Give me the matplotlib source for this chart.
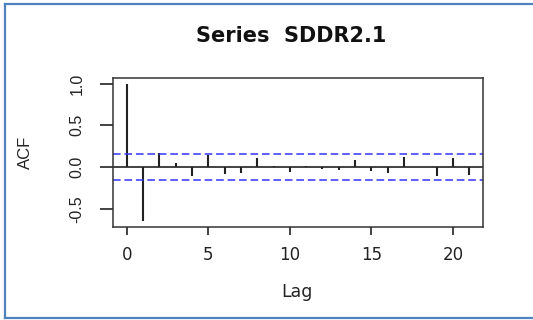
import matplotlib
matplotlib.use("Agg")
import matplotlib.pyplot as plt
from matplotlib.lines import Line2D

# ACF values, lags 0..21
lags = list(range(22))
acf = [1.0, -0.65, 0.175, 0.046, -0.11, 0.14, -0.08, -0.066, 0.104, 0.018,
       -0.055, 0.016, -0.022, -0.032, 0.084, -0.042, -0.075, 0.116, 0.004,
       -0.11, 0.104, -0.096]
ci = 0.157
title = "Series  SDDR2.1"

plt.rcParams['font.family'] = ['DejaVu Sans']

fig = plt.figure(figsize=(5.33, 3.2), dpi=100)
ax = fig.add_axes([113/533, 1 - 227/320, 370/533, 149/320])

ax.vlines(lags, 0, acf, color='#222222', linewidth=1.5)
ax.axhline(0, color='#222222', linewidth=1.2)
ax.axhline(ci, color='#3333ff', linewidth=1.1, linestyle=(0, (5, 2.5)))
ax.axhline(-ci, color='#3333ff', linewidth=1.1, linestyle=(0, (5, 2.5)))

lo, hi = min(acf), max(acf)
ax.set_xlim(-0.04 * 21, 21 * 1.04)
ax.set_ylim(lo - 0.04 * (hi - lo), hi + 0.04 * (hi - lo))

ax.set_xticks([0, 5, 10, 15, 20])
ax.set_yticks([-0.5, 0.0, 0.5, 1.0])
ax.set_yticklabels(['-0.5', '0.0', '0.5', '1.0'], rotation=90, va='center',
                   family='Liberation Sans', fontsize=11.5)
ax.tick_params(axis='x', length=6, width=1.2, pad=8, labelsize=12, colors='#222222')
ax.tick_params(axis='y', length=9.5, width=1.2, pad=11, colors='#222222')
for s in ax.spines.values():
    s.set_color('#333333')
    s.set_linewidth(1.1)

fig.text(25/533, 1 - 152/320, 'ACF', rotation=90, ha='center', va='center', fontsize=12,
         family='Liberation Sans', color='#222222')
fig.text(297/533, 1 - 292/320, 'Lag', ha='center', va='center', fontsize=12.5, color='#222222')
fig.text(291/533, 1 - 36/320, title, ha='center', va='center', fontsize=15, fontweight='bold', color='#111111')

# blue frame around the screenshot (open on the right)
bc = '#4f81bd'
fig.add_artist(Line2D([5/533, 5/533], [1 - 4/320, 1 - 318/320], color=bc, linewidth=1.6))
fig.add_artist(Line2D([5/533, 1.0], [1 - 4/320, 1 - 4/320], color=bc, linewidth=1.6))
fig.add_artist(Line2D([5/533, 1.0], [1 - 318/320, 1 - 318/320], color=bc, linewidth=1.6))

fig.savefig('out.png', dpi=100)
